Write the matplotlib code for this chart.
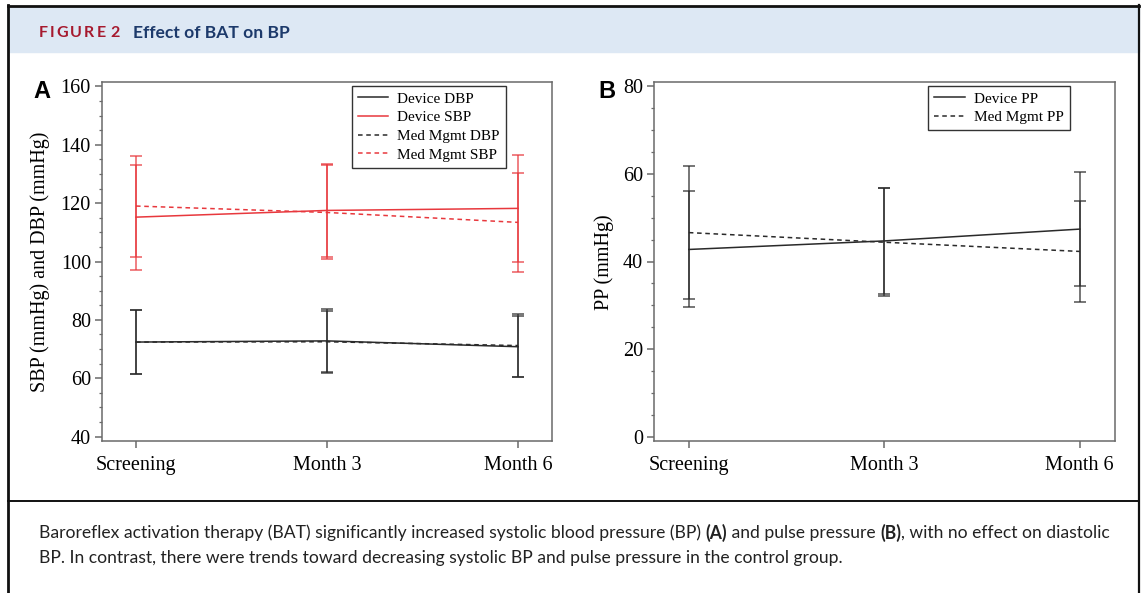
import numpy as np
import matplotlib
matplotlib.use('Agg')
import matplotlib.pyplot as plt
from matplotlib.ticker import MultipleLocator
from matplotlib.patches import Rectangle
from matplotlib.lines import Line2D

# data (mean and SD per visit)
visits = ["Screening", "Month 3", "Month 6"]

dev_dbp = [72.4, 72.8, 70.8]
dev_dbp_sd = [11.1, 10.8, 10.5]
dev_sbp = [115.2, 117.5, 118.2]
dev_sbp_sd = [18.0, 15.8, 18.4]
med_dbp = [72.4, 72.5, 71.2]
med_dbp_sd = [11.0, 10.6, 10.9]
med_sbp = [119.0, 116.8, 113.4]
med_sbp_sd = [17.3, 16.1, 16.9]

dev_pp = [42.75, 44.7, 47.4]
dev_pp_sd = [13.25, 12.1, 13.0]
med_pp = [46.6, 44.4, 42.3]
med_pp_sd = [15.1, 12.3, 11.6]

caption_line1 = [
    ("Baroreflex activation therapy (BAT) significantly increased systolic blood pressure (BP) ", "normal"),
    ("(A)", "bold"),
    (" and pulse pressure ", "normal"),
    ("(B)", "bold"),
    (", with no effect on diastolic", "normal"),
]
caption_line2 = [
    ("BP. In contrast, there were trends toward decreasing systolic BP and pulse pressure in the control group.", "normal"),
]

W, H = 1144, 593
RED = '#e8383d'
BLK = '#2a2a2a'
SERIF = 'Liberation Serif'
DASH = (3.0, 2.4)

fig = plt.figure(figsize=(W / 100, H / 100), dpi=100)
renderer = fig.canvas.get_renderer()


def fx(px):
    return px / W


def fy(py):
    return 1 - py / H


# frame and header band
fig.patches.append(Rectangle((fx(8), fy(52)), fx(1139) - fx(8), fy(6) - fy(52),
                             transform=fig.transFigure, color='#dde8f4', zorder=0))
for xs, ys, lw in [((8, 8), (5, 593), 2.0), ((8, 1139), (6, 6), 2.0),
                   ((1139, 1139), (5, 593), 1.6), ((8, 1139), (501, 501), 1.4)]:
    fig.lines.append(Line2D([fx(v) for v in xs], [fy(v) for v in ys],
                            transform=fig.transFigure, color='#111', lw=lw))


def draw_pieces(pieces, x0, y, size, family, colors=None, spacing=0.0):
    x = x0
    for i, (s, w) in enumerate(pieces):
        c = colors[i] if colors else '#222'
        t = fig.text(fx(x), fy(y), s, fontsize=size, fontweight=w, family=family,
                     color=c, va='center', ha='left')
        x += t.get_window_extent(renderer).width + spacing
    return x


# header title, "FIGURE 2" letter spaced
x = 39
for ch in "FIGURE":
    t = fig.text(fx(x), fy(33), ch, fontsize=11.5, fontweight='bold', family='Lato',
                 color='#a6192e', va='center', ha='left')
    x += t.get_window_extent(renderer).width + 2.0
x += 3
fig.text(fx(x), fy(33), "2", fontsize=11.5, fontweight='bold', family='Lato',
         color='#a6192e', va='center', ha='left')
fig.text(fx(133), fy(33), "Effect of BAT on BP", fontsize=12.6, fontweight='bold',
         family='Lato', color='#1d3a6b', va='center', ha='left')

# caption, font size fitted to the line width
probe = fig.text(0, 0, "".join(s for s, _ in caption_line1), fontsize=10, family='Lato')
cap_size = 10 * (1110 - 39) / probe.get_window_extent(renderer).width
probe.remove()
draw_pieces(caption_line1, 39, 533, cap_size, 'Lato')
draw_pieces(caption_line2, 39, 558, cap_size, 'Lato')

x = np.arange(len(visits))


def style_axes(ax, ylim, major):
    ax.set_xlim(-0.178, 2.178)
    ax.set_ylim(*ylim)
    ax.set_xticks(x)
    ax.set_xticklabels(visits)
    ax.yaxis.set_major_locator(MultipleLocator(major))
    ax.yaxis.set_minor_locator(MultipleLocator(5))
    for sp in ax.spines.values():
        sp.set_color('#6a6a6a')
        sp.set_linewidth(1.1)
    ax.tick_params(which='major', direction='out', length=5, width=1.1, color='#6a6a6a',
                   labelsize=14.5, pad=3)
    ax.tick_params(which='minor', direction='out', length=2.5, width=0.9, color='#6a6a6a')
    ax.tick_params(axis='x', pad=6)
    for lab in ax.get_xticklabels() + ax.get_yticklabels():
        lab.set_family(SERIF)


def series(ax, y, sd, color, dashed, label):
    ax.errorbar(x, y, yerr=sd, fmt='none', ecolor=color, elinewidth=1.2,
                capsize=4.5, capthick=1.2, alpha=0.75)
    if dashed:
        ax.plot(x, y, color=color, lw=1.1, dashes=DASH, label=label)
    else:
        ax.plot(x, y, color=color, lw=1.1, label=label)


# panel A
axA = fig.add_axes([fx(102), fy(441), fx(552) - fx(102), fy(82) - fy(441)])
series(axA, dev_dbp, dev_dbp_sd, BLK, False, "Device DBP")
series(axA, dev_sbp, dev_sbp_sd, RED, False, "Device SBP")
series(axA, med_dbp, med_dbp_sd, BLK, True, "Med Mgmt DBP")
series(axA, med_sbp, med_sbp_sd, RED, True, "Med Mgmt SBP")
style_axes(axA, (38.5, 161.5), 20)

# panel B
axB = fig.add_axes([fx(654), fy(441), fx(1114.6) - fx(654), fy(82) - fy(441)])
series(axB, dev_pp, dev_pp_sd, BLK, False, "Device PP")
series(axB, med_pp, med_pp_sd, BLK, True, "Med Mgmt PP")
style_axes(axB, (-1, 81), 20)

for ax, right in [(axA, 506), (axB, 1070)]:
    pos = ax.get_position()
    bx = (fx(right) - pos.x0) / pos.width
    leg = ax.legend(loc='upper right', bbox_to_anchor=(bx, 0.989), frameon=True,
                    fancybox=False, framealpha=1, edgecolor='#333',
                    prop={'family': SERIF, 'size': 11}, handlelength=2.0,
                    handletextpad=0.6, labelspacing=0.32, borderpad=0.4,
                    borderaxespad=0)
    leg.get_frame().set_linewidth(1.0)

fig.text(fx(40), fy(262), "SBP (mmHg) and DBP (mmHg)", rotation=90, fontsize=14.5,
         family=SERIF, ha='center', va='center')
fig.text(fx(604), fy(262), "PP (mmHg)", rotation=90, fontsize=14.5,
         family=SERIF, ha='center', va='center')
fig.text(fx(42), fy(91), "A", fontsize=17, fontweight='bold', family='Liberation Sans',
         ha='center', va='center')
fig.text(fx(607), fy(91), "B", fontsize=17, fontweight='bold', family='Liberation Sans',
         ha='center', va='center')

fig.savefig('out.png', dpi=100)
